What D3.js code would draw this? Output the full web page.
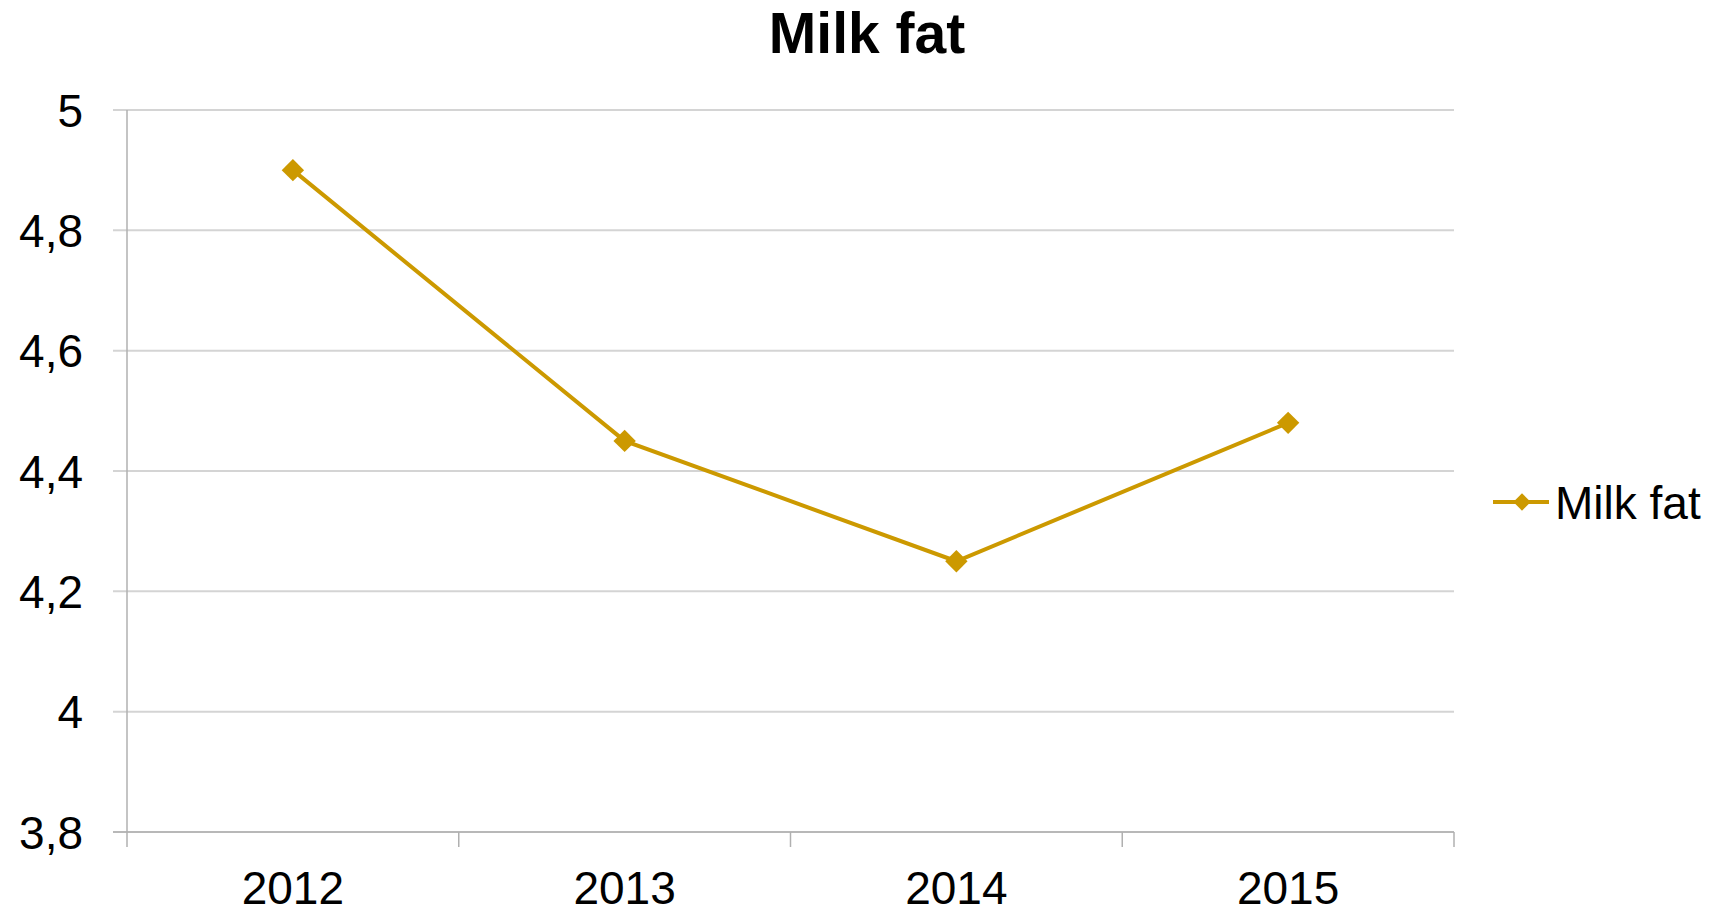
<!DOCTYPE html>
<html>
<head>
<meta charset="utf-8">
<script src="https://cdn.jsdelivr.net/npm/d3@7"></script>
<style>
  body { margin: 0; background: #fff; }
  text { font-family: "Liberation Sans", Arial, sans-serif; fill: #000; }
</style>
</head>
<body>
<div id="chart"></div>
<script>
// chart data
const years = ["2012", "2013", "2014", "2015"];
const milkFat = [4.9, 4.45, 4.25, 4.48];
const yTicks = [3.8, 4, 4.2, 4.4, 4.6, 4.8, 5];
const seriesName = "Milk fat";

const W = 1714, H = 911;
const margin = {top: 110, right: 260, bottom: 79, left: 127};
const width = W - margin.left - margin.right;   // 1327
const height = H - margin.top - margin.bottom;  // 722
const gold = "#cc9900";

const svg = d3.select("#chart").append("svg")
  .attr("width", W)
  .attr("height", H);

const g = svg.append("g")
  .attr("transform", `translate(${margin.left},${margin.top})`);

const x = d3.scaleBand().domain(years).range([0, width]);
const y = d3.scaleLinear().domain([3.8, 5]).range([height, 0]);

// gridlines + y ticks
g.selectAll("line.grid")
  .data(yTicks)
  .enter().append("line")
  .attr("class", "grid")
  .attr("x1", -14)
  .attr("x2", width)
  .attr("y1", d => y(d))
  .attr("y2", d => y(d))
  .attr("stroke", d => d === 3.8 ? "#b8b8b8" : "#d4d4d4")
  .attr("stroke-width", 2);

// y axis line
g.append("line")
  .attr("x1", 0).attr("x2", 0)
  .attr("y1", 0).attr("y2", height + 15)
  .attr("stroke", "#b0b0b0")
  .attr("stroke-width", 1.5);

// x tick marks at band edges
const edges = years.map(d => x(d)).concat([width]);
g.selectAll("line.xtick")
  .data(edges.slice(1))
  .enter().append("line")
  .attr("class", "xtick")
  .attr("x1", d => d).attr("x2", d => d)
  .attr("y1", height).attr("y2", height + 15)
  .attr("stroke", "#b0b0b0")
  .attr("stroke-width", 1.5);

// y labels
g.selectAll("text.ylab")
  .data(yTicks)
  .enter().append("text")
  .attr("class", "ylab")
  .attr("x", -44)
  .attr("y", d => y(d))
  .attr("dy", "0.36em")
  .attr("text-anchor", "end")
  .style("font-size", "46px")
  .text(d => d3.format("~g")(d).replace(".", ","));

// x labels
g.selectAll("text.xlab")
  .data(years)
  .enter().append("text")
  .attr("class", "xlab")
  .attr("x", d => x(d) + x.bandwidth() / 2)
  .attr("y", height + 72)
  .attr("text-anchor", "middle")
  .style("font-size", "46px")
  .text(d => d);

// line
const line = d3.line()
  .x((d, i) => x(years[i]) + x.bandwidth() / 2)
  .y(d => y(d));

g.append("path")
  .datum(milkFat)
  .attr("d", line)
  .attr("fill", "none")
  .attr("stroke", gold)
  .attr("stroke-width", 4);

// diamond markers
const diamond = d3.symbol().type(d3.symbolDiamond2).size(320);
g.selectAll("path.pt")
  .data(milkFat)
  .enter().append("path")
  .attr("class", "pt")
  .attr("d", diamond)
  .attr("transform", (d, i) => `translate(${x(years[i]) + x.bandwidth() / 2},${y(d)})`)
  .attr("fill", gold);

// title
svg.append("text")
  .attr("x", 867)
  .attr("y", 53)
  .attr("text-anchor", "middle")
  .style("font-size", "57px")
  .style("font-weight", "bold")
  .text(seriesName);

// legend
const lg = svg.append("g").attr("transform", "translate(1493,502)");
lg.append("line")
  .attr("x1", 0).attr("x2", 56)
  .attr("y1", 0).attr("y2", 0)
  .attr("stroke", gold)
  .attr("stroke-width", 4);
lg.append("path")
  .attr("d", d3.symbol().type(d3.symbolDiamond2).size(190))
  .attr("transform", "translate(29,0)")
  .attr("fill", gold);
lg.append("text")
  .attr("x", 62)
  .attr("y", 0)
  .attr("dy", "0.36em")
  .style("font-size", "46px")
  .text(seriesName);
</script>
</body>
</html>
